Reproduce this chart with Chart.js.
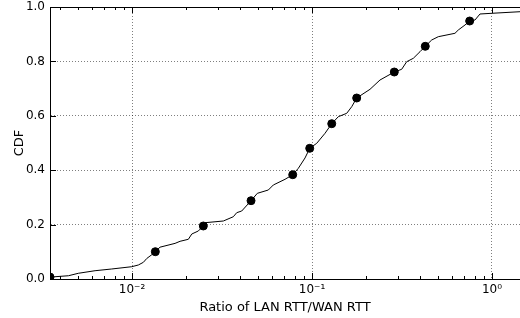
<!DOCTYPE html>
<html>
<head>
<meta charset="utf-8">
<script src="https://cdn.jsdelivr.net/npm/chart.js@4.4.1/dist/chart.umd.min.js"></script>
<style>
  html, body { margin: 0; padding: 0; background: #fff; }
  #wrap { width: 520px; height: 318px; }
</style>
</head>
<body>
<div id="wrap"><canvas id="cdfChart" width="520" height="318"></canvas></div>
<script>
// curva CDF
const ratioLine = [0.0035, 0.00443, 0.00503, 0.00623, 0.00771, 0.00996, 0.01084, 0.01156, 0.01207, 0.01287,
    0.01347, 0.0143, 0.01734, 0.01848, 0.02055, 0.02147, 0.02335, 0.02489, 0.02544, 0.03215,
    0.03654, 0.03817, 0.04068, 0.04583, 0.04967, 0.05717, 0.06095, 0.07079, 0.07812, 0.08393,
    0.09144, 0.0971, 0.1062, 0.1181, 0.1287, 0.14, 0.1559, 0.1662, 0.1771, 0.21,
    0.2386, 0.2865, 0.315, 0.3358, 0.3655, 0.3981, 0.4259, 0.4624, 0.503, 0.6227,
    0.6497, 0.7079, 0.7516, 0.8045, 0.8577, 0.9961, 1.431];
const cdfLine = [0.007, 0.012, 0.021, 0.0305, 0.0368, 0.0452, 0.0515, 0.0614, 0.0754, 0.0893,
    0.1004, 0.117, 0.131, 0.1386, 0.146, 0.1654, 0.1765, 0.1949, 0.207, 0.2132,
    0.229, 0.2438, 0.25, 0.2879, 0.315, 0.3272, 0.3456, 0.3665, 0.3835, 0.407,
    0.445, 0.4805, 0.4989, 0.5357, 0.571, 0.5967, 0.6092, 0.6335, 0.6654, 0.6974,
    0.7316, 0.761, 0.771, 0.7989, 0.8114, 0.8357, 0.8555, 0.8787, 0.8908, 0.9033,
    0.9154, 0.9338, 0.9485, 0.9522, 0.9743, 0.9768, 0.9827];

// marcadores (cada ~0.095 de la CDF)
const markerRatio = [0.0035, 0.01347, 0.02489, 0.04583, 0.07812, 0.0971, 0.1287, 0.1771, 0.2865, 0.4259, 0.7516];
const markerCdf = [0.007, 0.1004, 0.1949, 0.2879, 0.3835, 0.4805, 0.571, 0.6654, 0.761, 0.8555, 0.9485];

const xTickValues = [0.01, 0.1, 1];
const xTickLabels = ['10\u207B\u00B2', '10\u207B\u00B9', '10\u2070'];
const xMin = 0.0035, xMax = 1.431;

const FONT = 'DejaVu Sans';

// ticks hacia adentro + linea de arriba (estilo matplotlib)
const axisDecor = {
    id: 'axisDecor',
    afterDraw(chart) {
        const { ctx, chartArea: a, scales } = chart;
        const x = scales.x, y = scales.y;
        ctx.save();
        ctx.strokeStyle = '#000';
        ctx.lineWidth = 1;
        ctx.beginPath();
        ctx.moveTo(a.left, a.top + 0.5);
        ctx.lineTo(a.right, a.top + 0.5);
        for (let d = 0.001; d <= 1; d *= 10) {
            for (let k = 1; k <= 9; k++) {
                const v = k * d;
                if (v < xMin || v > xMax) continue;
                const px = Math.round(x.getPixelForValue(v)) + 0.5;
                const len = k === 1 ? 6 : 3;
                ctx.moveTo(px, a.bottom);
                ctx.lineTo(px, a.bottom - len);
                ctx.moveTo(px, a.top);
                ctx.lineTo(px, a.top + len);
            }
        }
        y.ticks.forEach(t => {
            const py = Math.round(y.getPixelForValue(t.value)) + 0.5;
            ctx.moveTo(a.left, py);
            ctx.lineTo(a.left + 6, py);
        });
        ctx.stroke();
        ctx.restore();
    }
};

function initChart() {
    const ctx = document.getElementById('cdfChart').getContext('2d');
    new Chart(ctx, {
        type: 'scatter',
        data: {
            datasets: [
                {
                    data: ratioLine.map((v, i) => ({ x: v, y: cdfLine[i] })),
                    showLine: true,
                    borderColor: '#000',
                    borderWidth: 1,
                    pointRadius: 0,
                    tension: 0
                },
                {
                    data: markerRatio.map((v, i) => ({ x: v, y: markerCdf[i] })),
                    showLine: false,
                    pointRadius: 4,
                    pointBackgroundColor: '#000',
                    pointBorderColor: '#000'
                }
            ]
        },
        options: {
            responsive: false,
            animation: false,
            layout: { autoPadding: false, padding: { top: 7, right: 0, bottom: 0, left: 0 } },
            plugins: {
                legend: { display: false },
                tooltip: { enabled: false }
            },
            scales: {
                x: {
                    type: 'logarithmic',
                    min: xMin,
                    max: xMax,
                    afterBuildTicks: (scale) => {
                        scale.ticks = xTickValues.map(v => ({ value: v }));
                    },
                    afterFit: (scale) => {
                        scale.height = 39;
                        scale.paddingLeft = 0;
                        scale.paddingRight = 0;
                    },
                    ticks: {
                        autoSkip: false,
                        maxRotation: 0,
                        padding: 4,
                        color: '#000',
                        font: { family: FONT, size: 12 },
                        callback: (v) => {
                            const i = xTickValues.indexOf(v);
                            return i >= 0 ? xTickLabels[i] : '';
                        }
                    },
                    grid: {
                        color: 'rgba(0,0,0,0.5)',
                        lineWidth: 1,
                        drawTicks: false
                    },
                    border: { display: true, color: '#000', width: 1, dash: [1, 2] },
                    title: {
                        display: true,
                        text: 'Ratio of LAN RTT/WAN RTT',
                        color: '#000',
                        font: { family: FONT, size: 13 },
                        padding: { top: 0, bottom: 3 }
                    }
                },
                y: {
                    min: 0,
                    max: 1,
                    afterFit: (scale) => {
                        scale.width = 50;
                        scale.paddingTop = 0;
                        scale.paddingBottom = 0;
                    },
                    ticks: {
                        stepSize: 0.2,
                        padding: 5,
                        color: '#000',
                        font: { family: FONT, size: 12 },
                        callback: (v) => v.toFixed(1)
                    },
                    grid: {
                        color: (c) => (c.tick && (c.tick.value === 0 || c.tick.value === 1)) ? 'rgba(0,0,0,0)' : 'rgba(0,0,0,0.5)',
                        lineWidth: 1,
                        drawTicks: false
                    },
                    border: { display: true, color: '#000', width: 1, dash: [1, 2] },
                    title: {
                        display: true,
                        text: 'CDF',
                        color: '#000',
                        font: { family: FONT, size: 13 },
                        padding: { top: 12, bottom: 0 }
                    }
                }
            }
        },
        plugins: [axisDecor]
    });
}

document.addEventListener('DOMContentLoaded', initChart);
</script>
</body>
</html>
